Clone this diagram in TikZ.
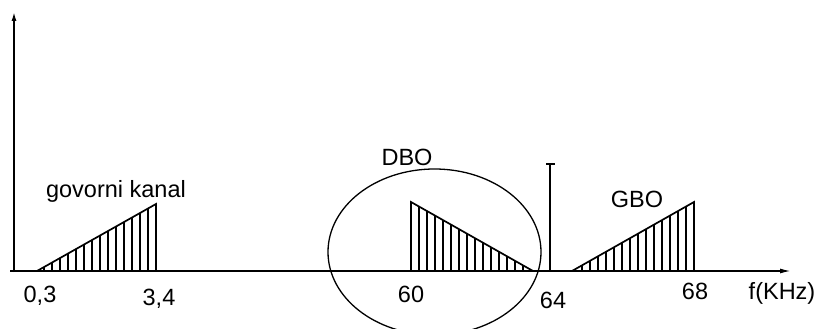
\documentclass[tikz,border=0pt]{standalone}
\usepackage{fontspec}
\setmainfont{Liberation Sans}
\usetikzlibrary{arrows.meta}
\begin{document}
\begin{tikzpicture}[x=1pt,y=-1pt,
  axis/.style={line width=1.5pt},
  band/.style={line width=1.7pt, line join=miter},
  hatch/.style={line width=1.3pt},
  lbl/.style={anchor=base, inner sep=0pt, font=\fontsize{23.5}{28}\selectfont}]
\useasboundingbox (0,0) rectangle (817,329);
% axes
\coordinate (ybot) at (14,272);
\coordinate (ytop) at (14,12);
\coordinate (xl) at (10,271);
\coordinate (xr) at (791,271);
\draw[axis,-{Latex[length=9pt,width=5pt]}] (ybot) -- (ytop);
\draw[axis,-{Latex[length=11pt,width=5pt]}] (xl) -- (xr);
% speech channel
\coordinate (s0) at (37,271);
\coordinate (s1) at (156,204);
\coordinate (s2) at (156,271);
\draw[band] (s0) -- (s1) -- (s2);
\foreach \k in {1,...,14}{
  \pgfmathsetmacro{\xx}{156-8*\k}
  \pgfmathsetmacro{\hh}{271-67*(\xx-37)/119}
  \draw[hatch] (\xx,271) -- (\xx,\hh);
}
% DBO
\coordinate (d0) at (411,271);
\coordinate (d1) at (411,202);
\coordinate (d2) at (533,271);
\draw[band] (d0) -- (d1) -- (d2);
\foreach \k in {1,...,15}{
  \pgfmathsetmacro{\xx}{411+8*\k}
  \pgfmathsetmacro{\hh}{271-69*(533-\xx)/122}
  \draw[hatch] (\xx,271) -- (\xx,\hh);
}
% GBO
\coordinate (g0) at (572,271);
\coordinate (g1) at (694,202);
\coordinate (g2) at (694,271);
\draw[band] (g0) -- (g1) -- (g2);
\foreach \k in {1,...,15}{
  \pgfmathsetmacro{\xx}{694-8*\k}
  \pgfmathsetmacro{\hh}{271-69*(\xx-572)/122}
  \draw[hatch] (\xx,271) -- (\xx,\hh);
}
% ellipse
\draw[line width=1.3pt] (434.5,252) ellipse [x radius=106.5, y radius=83];
% marker
\coordinate (m0) at (550,271);
\coordinate (m1) at (550,164);
\draw[line width=1.3pt] (m0) -- (m1);
\draw[line width=1.3pt] (546,164) -- (555,164);
% labels
\node[lbl] (tgk) at (116,197) {govorni kanal};
\node[lbl] (t03) at (40,302) {0,3};
\node[lbl] (t34) at (159,305) {3,4};
\node[lbl] (tdbo) at (407,165) {DBO};
\node[lbl] (t60) at (411,302) {60};
\node[lbl] (t64) at (553,308) {64};
\node[lbl] (tgbo) at (637,207) {GBO};
\node[lbl] (t68) at (695,299) {68};
\node[lbl] (tf) at (782,299) {f(KHz)};
\end{tikzpicture}
\end{document}
